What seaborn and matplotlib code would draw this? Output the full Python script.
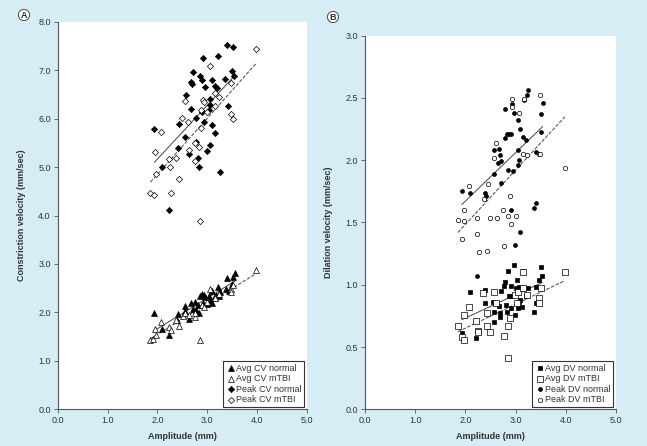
import numpy as np
import pandas as pd
import matplotlib
matplotlib.use("Agg")
import matplotlib.pyplot as plt
import seaborn as sns

# Panel A - constriction velocity
avg_cv_normal_x = [1.94, 2.09, 2.23, 2.41, 2.39, 2.56, 2.56, 2.63, 2.67, 2.71, 2.75, 2.78, 2.83, 2.81,
                   2.85, 2.89, 2.91, 2.93, 2.99, 3.04, 3.05, 3.09, 3.10, 3.18, 3.22, 3.23, 3.26, 3.40,
                   3.38, 3.43, 3.50, 3.51, 3.56, 2.95, 3.13]
avg_cv_normal_y = [1.98, 1.66, 1.53, 1.96, 1.84, 2.13, 2.02, 1.86, 2.20, 2.08, 2.22, 2.05, 1.99, 2.16,
                   2.34, 2.39, 2.20, 2.35, 2.17, 2.34, 2.24, 2.20, 2.45, 2.36, 2.53, 2.34, 2.43, 2.71,
                   2.48, 2.44, 2.59, 2.74, 2.82, 2.32, 2.30]
avg_cv_mtbi_x = [1.86, 1.92, 1.95, 1.97, 2.07, 2.23, 2.27, 2.37, 2.44, 2.51, 2.56, 2.63, 2.76, 2.76,
                 2.85, 2.89, 2.93, 2.99, 3.16, 3.16, 3.23, 3.47, 3.47, 3.51, 3.98, 3.06]
avg_cv_mtbi_y = [1.42, 1.46, 1.66, 1.53, 1.80, 1.69, 1.64, 1.84, 1.72, 1.93, 1.98, 1.95, 1.91, 1.98,
                 1.42, 2.15, 2.12, 2.22, 2.32, 2.29, 2.39, 2.48, 2.43, 2.57, 2.87, 2.48]
peak_cv_normal_x = [1.94, 2.10, 2.23, 2.43, 2.41, 2.56, 2.63, 2.57, 2.68, 2.71, 2.68, 2.70, 2.78, 2.77,
                    2.82, 2.83, 2.85, 2.89, 2.91, 2.89, 2.93, 2.96, 3.00, 3.04, 3.05, 3.05, 3.06, 3.09,
                    3.10, 3.16, 3.16, 3.20, 3.21, 3.25, 3.36, 3.40, 3.42, 3.51, 3.50, 3.54]
peak_cv_normal_y = [5.78, 5.01, 4.11, 5.88, 5.39, 5.63, 5.26, 6.49, 6.20, 6.96, 6.76, 6.72, 6.01, 5.52,
                    5.19, 5.00, 6.87, 6.80, 7.26, 6.14, 5.93, 6.65, 5.33, 6.18, 6.41, 6.28, 5.45, 6.79,
                    5.87, 6.67, 5.71, 6.64, 7.29, 4.89, 6.81, 7.52, 6.26, 7.47, 6.99, 6.87]
peak_cv_mtbi_x = [1.86, 1.94, 1.95, 1.97, 2.07, 2.23, 2.25, 2.27, 2.37, 2.44, 2.49, 2.56, 2.61, 2.63,
                  2.75, 2.76, 2.84, 2.85, 2.88, 2.88, 2.92, 2.93, 2.99, 3.06, 3.16, 3.16, 3.23, 3.47,
                  3.47, 3.51, 3.98]
peak_cv_mtbi_y = [4.47, 4.42, 5.31, 4.86, 5.73, 5.16, 5.01, 4.47, 5.19, 4.75, 6.01, 6.37, 5.92, 5.36,
                  5.13, 5.49, 5.41, 3.89, 5.80, 6.18, 6.39, 6.35, 6.14, 7.08, 6.53, 6.27, 6.45, 6.73,
                  6.09, 5.99, 7.43]

# Panel B - dilation velocity
avg_dv_normal_x = [1.93, 2.10, 2.22, 2.40, 2.40, 2.56, 2.55, 2.57, 2.67, 2.68, 2.68, 2.70, 2.76, 2.78,
                   2.80, 2.82, 2.85, 2.86, 2.90, 2.91, 2.91, 2.96, 2.98, 3.01, 3.03, 3.05, 3.06, 3.07,
                   3.13, 3.14, 3.21, 3.24, 3.36, 3.40, 3.40, 3.47, 3.50, 3.53, 3.09]
avg_dv_normal_y = [0.61, 0.94, 0.57, 0.96, 0.85, 0.78, 0.86, 0.70, 0.83, 0.74, 0.77, 0.95, 0.99, 1.02,
                   0.84, 0.78, 1.11, 0.91, 0.91, 0.99, 0.81, 1.16, 0.76, 0.97, 1.04, 0.81, 0.98, 0.86,
                   0.82, 1.11, 0.91, 0.97, 0.78, 0.98, 0.85, 1.04, 1.14, 1.07, 0.88]
avg_dv_mtbi_x = [1.85, 1.93, 1.97, 1.97, 2.07, 2.22, 2.25, 2.26, 2.36, 2.44, 2.43, 2.49, 2.56, 2.60,
                 2.76, 2.84, 2.84, 2.88, 2.99, 3.05, 3.15, 3.15, 3.22, 3.46, 3.47, 3.51, 3.98, 3.03]
avg_dv_mtbi_y = [0.67, 0.58, 0.56, 0.76, 0.82, 0.71, 0.63, 0.62, 0.93, 0.77, 0.67, 0.62, 0.94, 0.85,
                 0.59, 0.67, 0.41, 0.73, 0.92, 0.94, 1.10, 0.97, 0.92, 0.89, 0.85, 0.97, 1.10, 0.85]
peak_dv_normal_x = [1.93, 2.10, 2.23, 2.40, 2.42, 2.56, 2.57, 2.65, 2.67, 2.68, 2.71, 2.70, 2.78, 2.78,
                    2.83, 2.84, 2.86, 2.90, 2.91, 2.93, 2.94, 2.96, 2.99, 3.04, 3.05, 3.06, 3.05, 3.08,
                    3.09, 3.15, 3.16, 3.21, 3.22, 3.25, 3.37, 3.41, 3.41, 3.50, 3.51, 3.54]
peak_dv_normal_y = [1.75, 1.74, 1.07, 1.74, 1.71, 2.08, 1.89, 1.98, 2.09, 2.04, 1.99, 1.82, 2.41, 2.18,
                    2.21, 1.92, 2.21, 2.21, 1.60, 2.45, 1.91, 2.38, 1.32, 1.96, 2.08, 2.00, 2.32, 2.25,
                    1.42, 2.19, 2.48, 2.16, 2.52, 2.56, 1.62, 1.66, 2.07, 2.37, 2.23, 2.46]
peak_dv_mtbi_x = [1.85, 1.93, 1.97, 1.97, 2.07, 2.23, 2.24, 2.27, 2.37, 2.44, 2.45, 2.50, 2.56, 2.60,
                  2.63, 2.75, 2.76, 2.85, 2.88, 2.90, 2.92, 2.93, 3.00, 3.06, 3.15, 3.16, 3.22, 3.47,
                  3.49, 3.49, 3.98]
peak_dv_mtbi_y = [1.52, 1.37, 1.60, 1.51, 1.79, 1.41, 1.54, 1.26, 1.69, 1.27, 1.81, 1.54, 2.02, 2.14,
                  1.54, 1.60, 1.31, 1.55, 1.71, 1.49, 2.49, 2.43, 1.55, 2.38, 2.05, 2.49, 2.04, 2.05,
                  2.52, 2.05, 1.94]

BG = "#d6edf5"
INK = "#333333"

sns.set_style("ticks")
plt.rcParams["font.family"] = ["Liberation Sans", "DejaVu Sans"]
plt.rcParams["axes.edgecolor"] = "#555555"
plt.rcParams["xtick.color"] = "#555555"
plt.rcParams["ytick.color"] = "#555555"
plt.rcParams["xtick.labelcolor"] = INK
plt.rcParams["ytick.labelcolor"] = INK

fig = plt.figure(figsize=(6.47, 4.46), dpi=100, facecolor=BG)
axA = fig.add_axes([0.0892, 0.0823, 0.3853, 0.869])
axB = fig.add_axes([0.5641, 0.0823, 0.388, 0.8377])


def panel(ax, series, ylim, ystep, ylabel, letter, letter_pos):
    for x, y, label, marker, filled, size, ls in series:
        df = pd.DataFrame({"amp": x, "vel": y})
        sns.scatterplot(data=df, x="amp", y="vel", ax=ax, marker=marker, s=size,
                        color="black" if filled else "white", edgecolor="black",
                        linewidth=0.5, label=label, zorder=3)
        sns.regplot(data=df, x="amp", y="vel", ax=ax, scatter=False, ci=None,
                    line_kws=dict(color="#444444", lw=0.7, ls=ls), truncate=True)
    ax.set_facecolor("white")
    ax.set_xlim(0, 5)
    ax.set_ylim(*ylim)
    ax.set_xticks(np.arange(0, 5.1, 1))
    ax.set_yticks(np.arange(ylim[0], ylim[1] + 1e-6, ystep))
    ax.xaxis.set_major_formatter(plt.FormatStrFormatter("%.1f"))
    ax.yaxis.set_major_formatter(plt.FormatStrFormatter("%.1f"))
    ax.tick_params(labelsize=6.5, length=3, width=0.6, pad=2)
    for s in ["left", "bottom"]:
        ax.spines[s].set_linewidth(0.8)
    sns.despine(ax=ax)
    ax.set_xlabel("Amplitude (mm)", fontsize=6.5, fontweight="bold", color=INK, labelpad=5)
    ax.set_ylabel(ylabel, fontsize=6.5, fontweight="bold", color=INK, labelpad=9)
    leg = ax.legend(loc="lower right", fontsize=6.5, frameon=True, fancybox=False,
                    edgecolor="#333333", framealpha=1, borderpad=0.3, labelspacing=0.15,
                    handletextpad=0.1, handlelength=1.0, borderaxespad=0.3)
    leg.get_frame().set_linewidth(0.8)
    for t in leg.get_texts():
        t.set_color(INK)
    fig.text(letter_pos[0], letter_pos[1], letter, fontsize=6.5, fontweight="bold",
             ha="center", va="center", color=INK,
             bbox=dict(boxstyle="circle,pad=0.12", fc="white", ec=INK, lw=0.6))


panel(axA, [
    (avg_cv_normal_x, avg_cv_normal_y, "Avg CV normal", "^", True, 18, "-"),
    (avg_cv_mtbi_x, avg_cv_mtbi_y, "Avg CV mTBI", "^", False, 18, "--"),
    (peak_cv_normal_x, peak_cv_normal_y, "Peak CV normal", "D", True, 10, "-"),
    (peak_cv_mtbi_x, peak_cv_mtbi_y, "Peak CV mTBI", "D", False, 10, "--"),
], (0, 8), 1.0, "Constriction velocity (mm/sec)", "A", (24 / 647, 1 - 15 / 446))

panel(axB, [
    (avg_dv_normal_x, avg_dv_normal_y, "Avg DV normal", "s", True, 7, "-"),
    (avg_dv_mtbi_x, avg_dv_mtbi_y, "Avg DV mTBI", "s", False, 20, "--"),
    (peak_dv_normal_x, peak_dv_normal_y, "Peak DV normal", "o", True, 8, "-"),
    (peak_dv_mtbi_x, peak_dv_mtbi_y, "Peak DV mTBI", "o", False, 10, "--"),
], (0, 3), 0.5, "Dilation velocity (mm/sec)", "B", (333 / 647, 1 - 17 / 446))

fig.savefig("out.png", dpi=100, facecolor=BG)
